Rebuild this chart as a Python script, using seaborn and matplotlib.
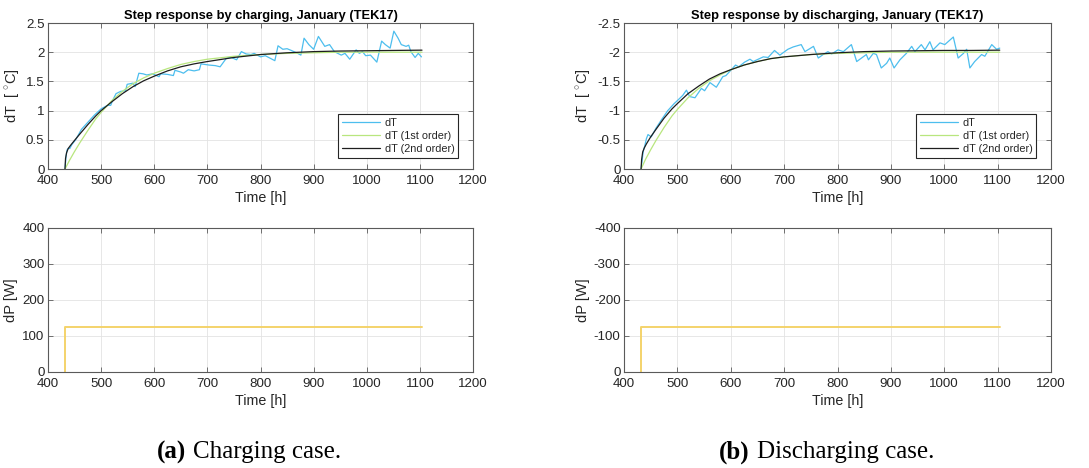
import numpy as np
import pandas as pd
import matplotlib
matplotlib.use("Agg")
import matplotlib.pyplot as plt
from matplotlib.ticker import FuncFormatter
import seaborn as sns

# ---------------- data ----------------
# Charging: measured dT
t_meas_c = [432, 434, 436, 439, 441, 445, 452, 463, 475, 487, 500, 512, 518, 522, 528,
            537, 546, 549, 560, 564, 571, 579, 586, 597, 609, 612, 625, 636, 639, 650,
            655, 664, 675, 685, 688, 703, 715, 724, 736, 745, 755, 764, 773, 782, 788,
            800, 809, 827, 833, 842, 850, 858, 870, 876, 882, 891, 900, 909, 921, 930,
            939, 952, 959, 968, 980, 986, 992, 998, 1007, 1019, 1028, 1035, 1044, 1051,
            1059, 1065, 1074, 1079, 1083, 1091, 1097, 1103]
dT_meas_c = [0.00, 0.22, 0.33, 0.36, 0.35, 0.42, 0.50, 0.68, 0.80, 0.92, 1.03, 1.09, 1.09,
             1.18, 1.29, 1.33, 1.34, 1.45, 1.47, 1.41, 1.64, 1.63, 1.61, 1.63, 1.58, 1.63,
             1.62, 1.60, 1.69, 1.66, 1.64, 1.70, 1.68, 1.70, 1.80, 1.78, 1.77, 1.75, 1.90,
             1.91, 1.87, 2.01, 1.97, 1.96, 1.98, 1.92, 1.94, 1.855, 2.11, 2.05, 2.06, 2.03,
             1.98, 1.95, 2.24, 2.13, 2.05, 2.27, 2.10, 2.13, 2.01, 1.95, 1.98, 1.88, 2.04,
             1.98, 2.01, 1.94, 1.95, 1.83, 2.19, 2.13, 2.07, 2.36, 2.24, 2.13, 2.10, 2.12,
             2.01, 1.91, 1.98, 1.92]

# Charging: 1st order model
t_fit1_c = [432, 440, 450, 460, 475, 490, 500, 520, 540, 560, 580, 600, 625, 650, 675,
            700, 750, 800, 850, 900, 950, 1000, 1050, 1104]
dT_fit1_c = [0.00, 0.14, 0.30, 0.45, 0.66, 0.86, 0.97, 1.17, 1.33, 1.46, 1.56, 1.64, 1.72,
             1.79, 1.84, 1.88, 1.93, 1.96, 1.98, 1.99, 2.00, 2.00, 2.00, 2.00]

# Charging: 2nd order model
t_fit2_c = [432, 433, 435, 438, 442, 450, 460, 475, 490, 500, 520, 540, 560, 580, 600,
            625, 650, 675, 700, 750, 800, 850, 900, 950, 1000, 1050, 1104]
dT_fit2_c = [0.00, 0.18, 0.28, 0.35, 0.40, 0.49, 0.60, 0.76, 0.91, 1.00, 1.15, 1.29, 1.41,
             1.51, 1.59, 1.68, 1.75, 1.80, 1.84, 1.91, 1.96, 1.99, 2.01, 2.02, 2.025, 2.03,
             2.035]

# Discharging: measured dT
t_meas_d = [432, 436, 439, 442, 445, 451, 460, 470, 482, 489, 494, 501, 510, 517, 523,
            533, 539, 545, 551, 561, 573, 585, 591, 601, 609, 615, 626, 636, 642, 661,
            670, 682, 692, 707, 717, 732, 739, 748, 755, 764, 773, 782, 789, 801, 811,
            826, 836, 845, 854, 858, 867, 873, 882, 892, 898, 906, 917, 929, 939, 945,
            957, 964, 973, 979, 992, 1001, 1017, 1026, 1036, 1042, 1048, 1057, 1070, 1076,
            1089, 1098, 1104]
dT_meas_d = [0.00, -0.30, -0.40, -0.52, -0.59, -0.55, -0.70, -0.84, -1.00, -1.07, -1.12,
             -1.18, -1.26, -1.35, -1.24, -1.22, -1.30, -1.38, -1.34, -1.48, -1.40, -1.58,
             -1.60, -1.70, -1.78, -1.75, -1.83, -1.88, -1.84, -1.92, -1.91, -2.03, -1.95,
             -2.05, -2.09, -2.13, -2.01, -2.06, -2.10, -1.90, -1.96, -2.01, -1.97, -2.04,
             -2.01, -2.13, -1.84, -1.90, -1.96, -1.87, -1.98, -1.96, -1.73, -1.81, -1.90,
             -1.73, -1.87, -1.98, -2.10, -2.01, -2.13, -2.04, -2.18, -2.04, -2.16, -2.13,
             -2.26, -1.90, -1.98, -2.05, -1.73, -1.84, -1.96, -1.93, -2.13, -2.05, -2.07]

# Discharging: 1st order model
t_fit1_d = [432, 440, 450, 460, 475, 490, 500, 520, 540, 560, 580, 600, 625, 650, 675,
            700, 750, 800, 850, 900, 950, 1000, 1050, 1104]
dT_fit1_d = [0.00, -0.16, -0.33, -0.49, -0.71, -0.91, -1.02, -1.22, -1.38, -1.51, -1.61,
             -1.70, -1.78, -1.84, -1.89, -1.92, -1.96, -1.98, -1.99, -2.00, -2.00, -2.00,
             -2.00, -2.00]

# Discharging: 2nd order model
t_fit2_d = [432, 433, 435, 438, 442, 450, 460, 475, 490, 500, 520, 540, 560, 580, 600,
            625, 650, 675, 700, 750, 800, 850, 900, 950, 1000, 1050, 1104]
dT_fit2_d = [0.00, -0.16, -0.29, -0.36, -0.43, -0.55, -0.68, -0.87, -1.03, -1.12, -1.29,
             -1.42, -1.54, -1.63, -1.70, -1.78, -1.84, -1.89, -1.92, -1.96, -1.99, -2.01,
             -2.02, -2.025, -2.03, -2.03, -2.035]

# Power steps
t_step = [432, 432, 1104]
dP_charge = [0, 125, 125]
dP_discharge = [0, -125, -125]

titles = ["Step response by charging, January (TEK17)",
          "Step response by discharging, January (TEK17)"]
legend_labels = ["dT", "dT (1st order)", "dT (2nd order)"]
x_ticks = [400, 500, 600, 700, 800, 900, 1000, 1100, 1200]
yticks_T = [[0, 0.5, 1, 1.5, 2, 2.5], [0, -0.5, -1, -1.5, -2, -2.5]]
yticks_P = [[0, 100, 200, 300, 400], [0, -100, -200, -300, -400]]
captions = [("(a)", "Charging case."), ("(b)", "Discharging case.")]

# ---------------- styling ----------------
sns.set_theme(style="ticks")
plt.rcParams["font.family"] = ["Liberation Sans", "DejaVu Sans"]
plt.rcParams["axes.unicode_minus"] = False
plt.rcParams["mathtext.fontset"] = "custom"
plt.rcParams["mathtext.rm"] = "Liberation Sans"

C_MEAS = "#4DBEEE"
C_FIT1 = "#B8E67E"
C_FIT2 = "#1E1E1E"
C_STEP = "#F4D36B"
TXT = "#262626"
EDGE = "#5a5a5a"

fig = plt.figure(figsize=(10.89, 4.68), dpi=100)
fig.patch.set_facecolor("white")

W = 1089.0
H = 468.0
lefts = [48, 624]
rights = [473, 1051]


def style_axes(ax):
    ax.set_facecolor("white")
    for s in ax.spines.values():
        s.set_color(EDGE)
        s.set_linewidth(0.8)
    ax.tick_params(direction="in", length=3.5, width=0.6, colors=EDGE,
                   labelcolor=TXT, labelsize=9.6, top=True, right=True)
    ax.tick_params(axis="x", pad=4.5)
    ax.tick_params(axis="y", pad=2.5)
    ax.grid(True, color="#e3e3e3", linewidth=0.6)
    ax.set_axisbelow(True)
    ax.yaxis.set_major_formatter(FuncFormatter(lambda v, p: "%g" % v))
    ax.xaxis.set_major_formatter(FuncFormatter(lambda v, p: "%g" % v))


meas = [(t_meas_c, dT_meas_c), (t_meas_d, dT_meas_d)]
fit1 = [(t_fit1_c, dT_fit1_c), (t_fit1_d, dT_fit1_d)]
fit2 = [(t_fit2_c, dT_fit2_c), (t_fit2_d, dT_fit2_d)]
steps = [dP_charge, dP_discharge]

for i in range(2):
    l = lefts[i] / W
    w = (rights[i] - lefts[i]) / W
    # top panel
    ax = fig.add_axes([l, 1 - 169 / H, w, (169 - 23) / H])
    style_axes(ax)
    sns.lineplot(x=meas[i][0], y=meas[i][1], ax=ax, color=C_MEAS, linewidth=0.9,
                 label=legend_labels[0], estimator=None, sort=False)
    sns.lineplot(x=fit1[i][0], y=fit1[i][1], ax=ax, color=C_FIT1, linewidth=0.9,
                 label=legend_labels[1], estimator=None, sort=False)
    sns.lineplot(x=fit2[i][0], y=fit2[i][1], ax=ax, color=C_FIT2, linewidth=0.9,
                 label=legend_labels[2], estimator=None, sort=False)
    ax.set_xlim(400, 1200)
    ax.set_xticks(x_ticks)
    ax.set_yticks(yticks_T[i])
    ax.set_ylim(yticks_T[i][0], yticks_T[i][-1])
    ax.set_title(titles[i], fontsize=9.3, fontweight="bold", color="black", pad=3)
    ax.set_xlabel("Time [h]", fontsize=10.3, color=TXT, labelpad=3)
    ax.set_ylabel(r"dT  [ $^{\circ}$C]", fontsize=10.5, color=TXT, labelpad=3)
    leg = ax.legend(loc="lower right", bbox_to_anchor=(0.965, 0.075), borderaxespad=0,
                    fontsize=7.8, frameon=True, fancybox=False, framealpha=1,
                    edgecolor=TXT, handlelength=3.5, handletextpad=0.45,
                    labelspacing=0.3, borderpad=0.35)
    leg.get_frame().set_linewidth(0.8)
    for txt in leg.get_texts():
        txt.set_color(TXT)

    # bottom panel
    axb = fig.add_axes([l, 1 - 372 / H, w, (372 - 228) / H])
    style_axes(axb)
    sns.lineplot(x=t_step, y=steps[i], ax=axb, color=C_STEP, linewidth=1.4,
                 estimator=None, sort=False)
    axb.set_xlim(400, 1200)
    axb.set_xticks(x_ticks)
    axb.set_yticks(yticks_P[i])
    axb.set_ylim(yticks_P[i][0], yticks_P[i][-1])
    axb.set_xlabel("Time [h]", fontsize=10.3, color=TXT, labelpad=3)
    axb.set_ylabel("dP [W]", fontsize=10.5, color=TXT, labelpad=3)

# captions
cap_split = [(186, 193), (750, 757)]
for (bold, rest), (xr, xl) in zip(captions, cap_split):
    fig.text(xr / W, 1 - 452 / H, bold, ha="right", va="center", fontsize=18,
             fontweight="bold", family="Liberation Serif", color="black")
    fig.text(xl / W, 1 - 452 / H, rest, ha="left", va="center", fontsize=18,
             family="Liberation Serif", color="black")

fig.savefig("out.png", dpi=100, facecolor="white")
